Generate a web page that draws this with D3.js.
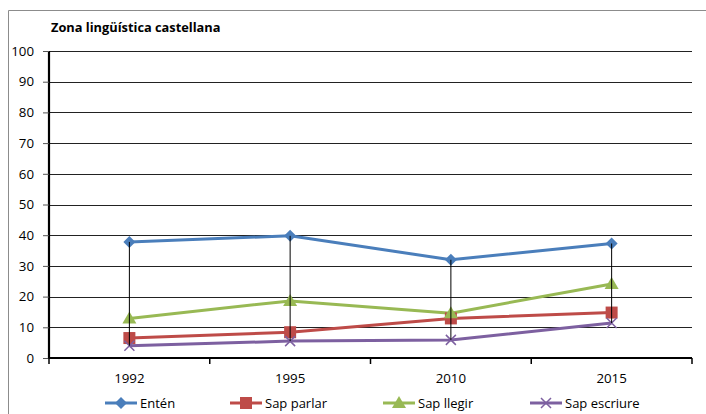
<!DOCTYPE html>
<html><head><meta charset="utf-8">
<script src="https://cdn.jsdelivr.net/npm/d3@7"></script>
<style>body{margin:0;background:#fff}svg{display:block}</style>
</head><body><svg id="c" width="706" height="414"></svg>
<script>
const categories = ["1992", "1995", "2010", "2015"];
const enten = [37.8, 39.8, 32.0, 37.3];
const sapParlar = [6.5, 8.4, 12.9, 14.8];
const sapLlegir = [12.9, 18.6, 14.6, 24.1];
const sapEscriure = [4.0, 5.5, 5.9, 11.4];
const seriesNames = ["Entén", "Sap parlar", "Sap llegir", "Sap escriure"];
const yTicks = [0, 10, 20, 30, 40, 50, 60, 70, 80, 90, 100];
const title = "Zona lingüística castellana";

const colors = ["#4A7EBB", "#BE4B48", "#98B954", "#7D60A0"];
const symbols = ["diamond", "square", "triangle", "x"];
const allSeries = [enten, sapParlar, sapLlegir, sapEscriure];

const svg = d3.select("#c");
const font = "'Open Sans', sans-serif";
const L = 49, R = 692, T = 51, B = 358;

// chart border
svg.append("path").attr("d", "M8.5,414 L8.5,10.5 L706,10.5").attr("fill","none").attr("stroke","#8c8c8c").attr("stroke-width",1);

svg.append("text").attr("x", 51).attr("y", 32).text(title)
  .attr("font-family", font).attr("font-weight", "bold").attr("font-size", 12.8).attr("fill", "#000");

const x = d3.scaleBand().domain(categories).range([L, R]);
const y = d3.scaleLinear().domain([0, 100]).range([B, T]);

// gridlines
svg.append("g").selectAll("line").data(yTicks.filter(d => d > 0)).join("line")
  .attr("x1", L).attr("x2", R).attr("y1", d => Math.round(y(d)) + 0.5).attr("y2", d => Math.round(y(d)) + 0.5)
  .attr("stroke", "#222").attr("stroke-width", 1.2);

// y axis
const yAxis = d3.axisLeft(y).tickValues(yTicks).tickSize(6).tickPadding(9);
const gy = svg.append("g").attr("transform", `translate(${L},0)`).call(yAxis);
gy.select(".domain").attr("stroke", "#000").attr("stroke-width", 2.2).attr("d", `M0,${T}V${B+1}`);
gy.selectAll(".tick line").attr("stroke", "#555");
gy.selectAll("text").attr("font-family", font).attr("font-size", 13.3).attr("fill", "#000");

// x axis
const gx = svg.append("g").attr("transform", `translate(0,${B})`);
gx.append("line").attr("x1", L).attr("x2", R).attr("stroke", "#000").attr("stroke-width", 2.2);
const edges = categories.map(c => x(c)).concat([R]);
gx.selectAll(".tk").data(edges).join("line").attr("class","tk")
  .attr("x1", d => d).attr("x2", d => d).attr("y1", 0).attr("y2", 6).attr("stroke", "#000").attr("stroke-width", 1.5);
gx.selectAll(".lb").data(categories).join("text").attr("class","lb")
  .attr("x", d => x(d) + x.bandwidth()/2).attr("y", 25).attr("text-anchor","middle")
  .attr("font-family", font).attr("font-size", 13.3).text(d => d);

// lines
const cx = (d, i) => x(categories[i]) + x.bandwidth()/2;
const line = d3.line().x(cx).y(d => y(d));
allSeries.forEach((s, k) => {
  svg.append("path").datum(s).attr("d", line).attr("fill","none")
    .attr("stroke", colors[k]).attr("stroke-width", 3).attr("stroke-linejoin","round");
});

function marker(g, k, px, py) {
  const c = colors[k];
  if (symbols[k] === "diamond") {
    g.append("path").attr("d", `M${px},${py-6}L${px+6},${py}L${px},${py+6}L${px-6},${py}Z`).attr("fill", c);
  } else if (symbols[k] === "square") {
    g.append("rect").attr("x", px-6).attr("y", py-6).attr("width", 12).attr("height", 12).attr("fill", c);
  } else if (symbols[k] === "triangle") {
    g.append("path").attr("d", `M${px},${py-7}L${px+7},${py+5}L${px-7},${py+5}Z`).attr("fill", c);
  } else {
    g.append("path").attr("d", `M${px-5},${py-5}L${px+5},${py+5}M${px-5},${py+5}L${px+5},${py-5}`).attr("stroke", c).attr("stroke-width", 1.5);
  }
}
allSeries.forEach((s, k) => {
  const g = svg.append("g");
  s.forEach((v, i) => marker(g, k, cx(v, i), y(v)));
});

// high-low lines
categories.forEach((c, i) => {
  const vals = allSeries.map(s => s[i]);
  svg.append("line").attr("x1", cx(0, i)).attr("x2", cx(0, i))
    .attr("y1", y(d3.max(vals))).attr("y2", y(d3.min(vals))).attr("stroke", "#000").attr("stroke-width", 1);
});

// legend
const legX = [105, 230, 383, 530];
seriesNames.forEach((n, k) => {
  const g = svg.append("g");
  const ly = 403;
  g.append("line").attr("x1", legX[k]).attr("x2", legX[k] + 32).attr("y1", ly).attr("y2", ly)
    .attr("stroke", colors[k]).attr("stroke-width", 3);
  marker(g, k, legX[k] + 16, ly);
  g.append("text").attr("x", legX[k] + 35).attr("y", ly + 5).text(n)
    .attr("font-family", font).attr("font-size", 13).attr("fill", "#000");
});
</script></body></html>
